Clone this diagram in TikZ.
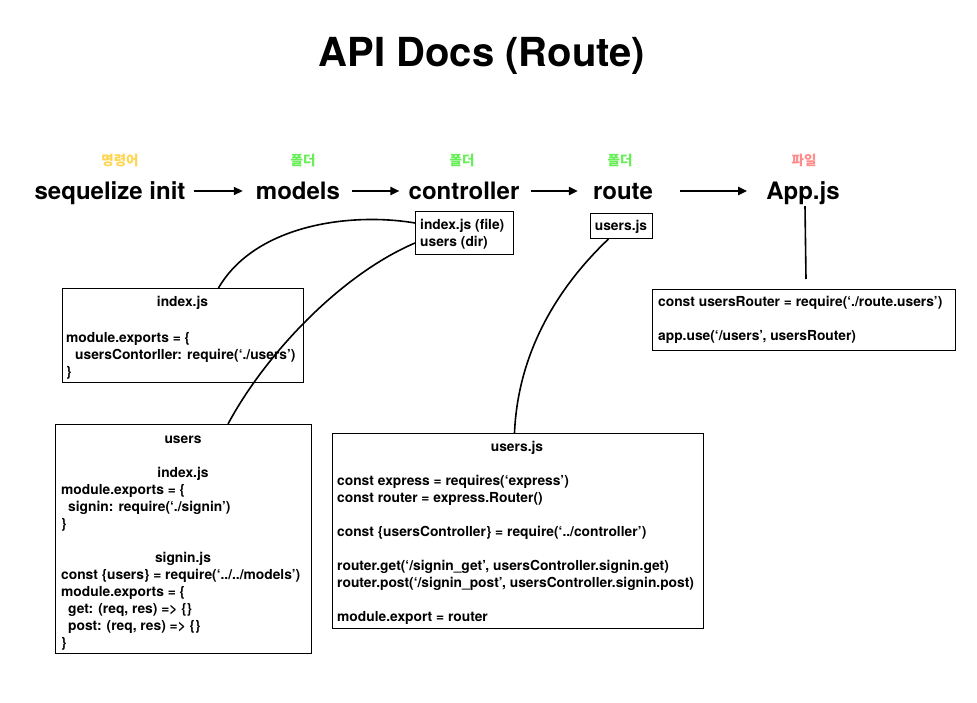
\documentclass[tikz,border=0pt]{standalone}
\usepackage{fontspec}
\setmainfont{TeX Gyre Heros}
\newfontfamily\kr{Noto Sans CJK KR}
\usetikzlibrary{arrows.meta}
\definecolor{kyellow}{HTML}{FFD54F}
\definecolor{kgreen}{HTML}{66EE55}
\definecolor{kpink}{HTML}{FF8C8C}
\begin{document}
\begin{tikzpicture}[x=1pt,y=-1pt,
  lbl/.style={font=\fontsize{24}{28}\selectfont\bfseries, inner sep=0pt, text height=19pt, text depth=1pt, anchor=base},
  kor/.style={font=\kr\bfseries\fontsize{13.5}{15}\selectfont, inner sep=0pt, anchor=base},
  code/.style={font=\fontsize{13.8}{17}\selectfont\bfseries, inner sep=0pt, anchor=base west},
  head/.style={font=\fontsize{13.8}{17}\selectfont\bfseries, inner sep=0pt, anchor=base},
  box/.style={draw, line width=1pt, inner sep=0pt, anchor=north west},
  conn/.style={line width=1.6pt},
  arr/.style={line width=2pt, -{Triangle[length=9pt,width=8pt]}}]
\fill[white] (0,0) rectangle (977,703);
\useasboundingbox (0,0) rectangle (977,703);

% title
\node[font=\fontsize{40}{46}\selectfont\bfseries, inner sep=0pt, anchor=base] (title) at (482,67) {API Docs (Route)};

% korean labels
\node[kor, text=kyellow] (k1) at (120,166) {명령어};
\node[kor, text=kgreen] (k2) at (303,166) {폴더};
\node[kor, text=kgreen] (k3) at (462,166) {폴더};
\node[kor, text=kgreen] (k4) at (620,166) {폴더};
\node[kor, text=kpink] (k5) at (804,166) {파일};

% main labels
\node[lbl] (seq) at (110,200) {sequelize init};
\node[lbl] (models) at (298,200) {models};
\node[lbl] (ctrl) at (464,200) {controller};
\node[lbl] (route) at (623,200) {route};
\node[lbl] (app) at (803,200) {App.js};

\draw[arr] ([xshift=8pt]seq.east) -- ([xshift=-13pt]models.west);
\draw[arr] ([xshift=12pt]models.east) -- ([xshift=-9pt]ctrl.west);
\draw[arr] ([xshift=11pt]ctrl.east) -- ([xshift=-15pt]route.west);
\draw[arr] ([xshift=27pt]route.east) -- ([xshift=-19pt]app.west);

% boxes
\node[box, minimum width=98pt, minimum height=43pt] (ctrlbox) at (415,211) {};
\node[box, minimum width=62pt, minimum height=25pt] (ujsbox) at (590,213) {};
\node[box, minimum width=241pt, minimum height=94pt] (idxbox) at (62,288) {};
\node[box, minimum width=256pt, minimum height=229pt] (usersbox) at (55,424) {};
\node[box, minimum width=371pt, minimum height=195pt] (routebox) at (332,433) {};
\node[box, minimum width=303pt, minimum height=61pt] (appbox) at (652,289) {};

% controller box text
\node[code] (c1) at (420,230) {index.js (file)};
\node[code] (c2) at (420,247) {users (dir)};
% route small box
\node[head] (r1) at (621,231) {users.js};

% index.js box
\node[head] (i0) at (182.5,307) {index.js};
\node[code] (i1) at (66,342) {module.exports = \{};
\node[code] (i2) at (75,359) {usersContorller: require(‘./users’)};
\node[code] (i3) at (66,376) {\}};

% users box
\node[head] (u0) at (183,443) {users};
\node[head] (u1) at (183,477) {index.js};
\node[code] (u2) at (61,494) {module.exports = \{};
\node[code] (u3) at (68,511) {signin: require(‘./signin’)};
\node[code] (u4) at (61,528) {\}};
\node[head] (u5) at (183,562) {signin.js};
\node[code] (u6) at (61,579) {const \{users\} = require(‘../../models’)};
\node[code] (u7) at (61,596) {module.exports = \{};
\node[code] (u8) at (68,613) {get: (req, res) => \{\}};
\node[code] (u9) at (68,630) {post: (req, res) => \{\}};
\node[code] (u10) at (61,647) {\}};

% route users.js box
\node[head] (s0) at (517,451) {users.js};
\node[code] (s1) at (337,485) {const express = requires(‘express’)};
\node[code] (s2) at (337,502) {const router = express.Router()};
\node[code] (s3) at (337,536) {const \{usersController\} = require(‘../controller’)};
\node[code] (s4) at (337,570) {router.get(‘/signin\_get’, usersController.signin.get)};
\node[code] (s5) at (337,587) {router.post(‘/signin\_post’, usersController.signin.post)};
\node[code] (s6) at (337,621) {module.export = router};

% app box
\node[code] (a1) at (658,307) {const usersRouter = require(‘./route.users’)};
\node[code] (a2) at (658,341) {app.use(‘/users’, usersRouter)};

% connectors
\draw[conn] ([yshift=10pt]ctrlbox.west) .. controls (350,212) and (255,225) .. ([xshift=35.5pt]idxbox.north);
\draw[conn] ([yshift=-10pt]ctrlbox.west) .. controls (340,275) and (265,355) .. ([xshift=44.5pt]usersbox.north);
\draw[conn] ([xshift=-13pt]ujsbox.south) .. controls (560,285) and (518,350) .. ([xshift=-3.5pt]routebox.north);
\draw[conn] ([xshift=2pt,yshift=-5pt]app.south) -- ([xshift=2pt,yshift=10pt]appbox.north);
\end{tikzpicture}
\end{document}
